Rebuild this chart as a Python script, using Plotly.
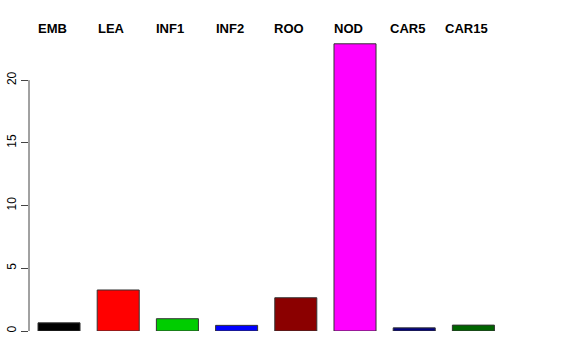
import plotly.graph_objects as go

categories = ["EMB", "LEA", "INF1", "INF2", "ROO", "NOD", "CAR5", "CAR15"]
values = [0.65, 3.27, 0.98, 0.45, 2.65, 22.9, 0.25, 0.47]
colors = ["#000000", "#FF0000", "#00CD00", "#0000FF", "#8B0000", "#FF00FF", "#000080", "#006400"]
yticks = [0, 5, 10, 15, 20]

xpos = list(range(len(categories)))

fig = go.Figure()
fig.add_trace(go.Bar(
    x=xpos, y=values,
    marker=dict(color=colors, line=dict(color="#333333", width=1)),
    width=0.71,
    showlegend=False,
    hoverinfo="skip",
))

for i, c in enumerate(categories):
    fig.add_annotation(x=i, y=1, xref="x", yref="paper", text="<b>%s</b>" % c,
                       showarrow=False, yanchor="bottom", xshift=-7, yshift=-8,
                       font=dict(family="Liberation Sans, Arial", size=13, color="black"))

fig.add_shape(type="line", xref="paper", yref="y", x0=0, x1=0, y0=0, y1=20,
              line=dict(color="#444444", width=1))

fig.update_layout(
    width=576, height=360,
    margin=dict(l=29, r=73, t=30, b=29),
    plot_bgcolor="white", paper_bgcolor="white",
    font=dict(family="Liberation Sans, Arial", size=12, color="black"),
    xaxis=dict(range=[-0.507, 7.5], showticklabels=False, showgrid=False,
               zeroline=False, showline=False, ticks="", automargin=False),
    yaxis=dict(range=[0, 24], tickvals=yticks, ticktext=[str(v) for v in yticks],
               tickangle=-90, ticks="outside", ticklen=7, tickcolor="#444444",
               showgrid=False, zeroline=False, showline=False, automargin=False,
               tickfont=dict(size=12)),
)

fig.write_html("out.html")
